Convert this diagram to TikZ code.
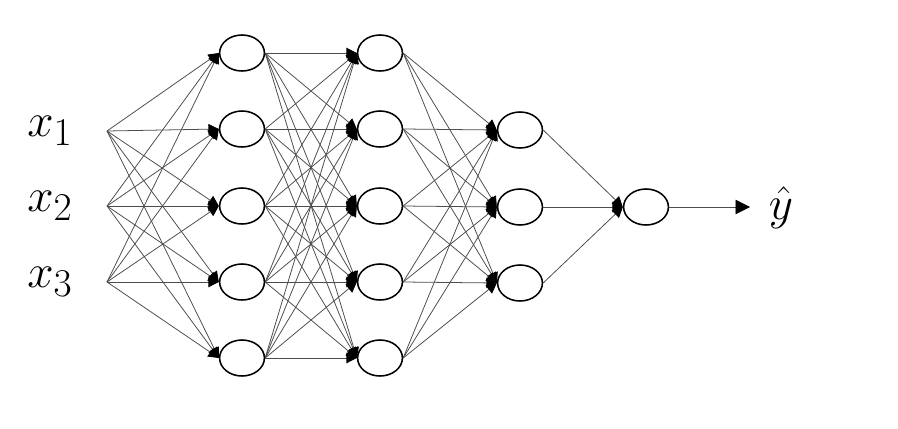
\documentclass[tikz,border=0pt]{standalone}
\usepackage{tikz}
\usetikzlibrary{arrows.meta,positioning,shapes.geometric}

\begin{document}
\begin{tikzpicture}[x=0.025cm,y=-0.025cm,
    unit/.style={draw,ellipse,line width=1.1pt,fill=white,inner sep=0pt,
      minimum width=1.12cm,minimum height=0.9cm},
    wire/.style={draw=black!70,line width=0.55pt,
      -{Triangle[length=2.6mm,width=2.6mm,color=black]}},
    lab/.style={font=\Huge}
  ]
    \useasboundingbox (0,0) rectangle (898,428);
    % hidden layers
    \foreach \i/\y in {1/53,2/129,3/206,4/282,5/358} {
      \node[unit] (a\i) at (242,\y) {};
      \node[unit] (b\i) at (380,\y) {};
    }
    \foreach \i/\y in {1/130,2/207,3/283}
      \node[unit] (c\i) at (520,\y) {};
    \node[unit] (out) at (646,207) {};
    % inputs
    \foreach \i/\y in {1/131,2/206,3/282} {
      \coordinate (in\i) at (107,\y);
      \node[lab] (x\i) at (50,\y) {\scalebox{1.35}{$x_{\i}$}};
    }
    % connections
    \foreach \i in {1,2,3}
      \foreach \j in {1,...,5}
        \draw[wire] (in\i) -- (a\j.west);
    \foreach \i in {1,...,5}
      \foreach \j in {1,...,5}
        \draw[wire] (a\i.east) -- (b\j.west);
    \foreach \i in {1,...,5}
      \foreach \j in {1,2,3}
        \draw[wire] (b\i.east) -- (c\j.west);
    \foreach \i in {1,2,3}
      \draw[wire] (c\i.east) -- (out.west);
    \coordinate (tip) at (750,207);
    \draw[wire,-{Triangle[length=3.6mm,width=3.6mm,color=black]}] (out.east) -- (tip);
    \node[lab] (yhat) at (781,208) {\scalebox{1.35}{$\hat{y}$}};
  \end{tikzpicture}
\end{document}
